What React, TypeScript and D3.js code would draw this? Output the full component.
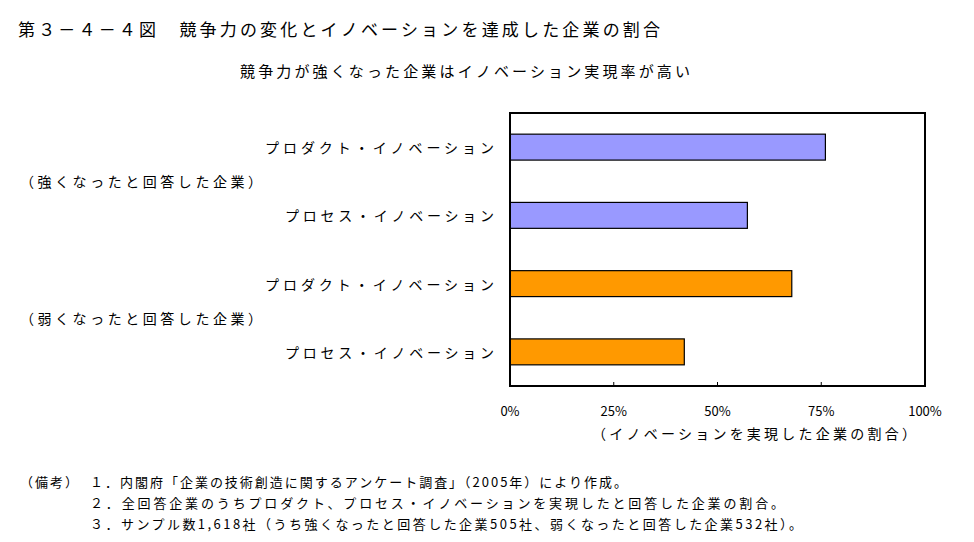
import React from "react";
import * as d3 from "d3";

const title = "第３－４－４図　競争力の変化とイノベーションを達成した企業の割合";
const subtitle = "競争力が強くなった企業はイノベーション実現率が高い";
const categories = ["強・プロダクト", "強・プロセス", "弱・プロダクト", "弱・プロセス"];
const categoryLabels = [
  "プロダクト・イノベーション",
  "プロセス・イノベーション",
  "プロダクト・イノベーション",
  "プロセス・イノベーション",
];
const values = [0.76, 0.572, 0.679, 0.42];
const groups = ["strong", "strong", "weak", "weak"];
const groupLabels = ["（強くなったと回答した企業）", "（弱くなったと回答した企業）"];
const ticks = [0, 0.25, 0.5, 0.75, 1];
const tickLabels = ["0%", "25%", "50%", "75%", "100%"];
const axisTitle = "（イノベーションを実現した企業の割合）";
const notes = [
  "（備考）",
  "１．内閣府「企業の技術創造に関するアンケート調査」（2005年）により作成。",
  "２．全回答企業のうちプロダクト、プロセス・イノベーションを実現したと回答した企業の割合。",
  "３．サンプル数1,618社（うち強くなったと回答した企業505社、弱くなったと回答した企業532社）。",
];

const FONT = "'Noto Sans CJK JP', sans-serif";

export default function App() {
  const W = 974;
  const H = 542;
  const left = 510, right = 925, top = 113, bottom = 386;
  const x = d3.scaleLinear().domain([0, 1]).range([left, right]);
  const y = d3.scaleBand<string>().domain(categories).range([top, bottom]).padding(0);
  const barH = y.bandwidth() * 0.38;
  const color = d3.scaleOrdinal<string, string>().domain(["strong", "weak"]).range(["#9999FF", "#FF9900"]);

  const catLens = [229, 209, 229, 209];
  const groupY = [
    ((y(categories[0]) as number) + (y(categories[1]) as number) + y.bandwidth()) / 2,
    ((y(categories[2]) as number) + (y(categories[3]) as number) + y.bandwidth()) / 2,
  ];
  const noteLens = [537, 694, 712];

  return (
    <svg width={W} height={H} style={{ position: "absolute", left: 0, top: 0, background: "#fff" }} fontFamily={FONT}>
      <rect x={0} y={0} width={W} height={H} fill="#fff" />
      <text x={18} y={28} fontSize={17} dominantBaseline="central" textLength={642} lengthAdjust="spacing">{title}</text>
      <text x={240} y={70} fontSize={15} dominantBaseline="central" textLength={450} lengthAdjust="spacing">{subtitle}</text>

      {categories.map((c, i) => (
        <rect key={c} x={x(0)} y={(y(c) as number) + (y.bandwidth() - barH) / 2} width={x(values[i]) - x(0)} height={barH}
          fill={color(groups[i])} stroke="#000" strokeWidth={1.2} />
      ))}

      <rect x={left} y={top} width={right - left} height={bottom - top} fill="none" stroke="#000" strokeWidth={2} />
      {ticks.slice(1, -1).map((t) => (
        <line key={t} x1={x(t)} x2={x(t)} y1={bottom} y2={bottom - 4} stroke="#000" strokeWidth={1} />
      ))}
      {ticks.map((t, i) => (
        <text key={t} x={x(t)} y={410} fontSize={13} textAnchor="middle" dominantBaseline="central">{tickLabels[i]}</text>
      ))}
      <text x={592} y={433} fontSize={14} dominantBaseline="central" textLength={324} lengthAdjust="spacing">{axisTitle}</text>

      {categories.map((c, i) => (
        <text key={c} x={494} y={(y(c) as number) + y.bandwidth() / 2} fontSize={14} textAnchor="end" dominantBaseline="central"
          textLength={catLens[i]} lengthAdjust="spacing">{categoryLabels[i]}</text>
      ))}
      {groupLabels.map((g, i) => (
        <text key={g} x={20} y={groupY[i]} fontSize={14} dominantBaseline="central" textLength={242} lengthAdjust="spacing">{g}</text>
      ))}

      <text x={20} y={481} fontSize={13} dominantBaseline="central" textLength={58} lengthAdjust="spacing">{notes[0]}</text>
      {notes.slice(1).map((n, i) => (
        <text key={i} x={90} y={481 + i * 21} fontSize={13} dominantBaseline="central" textLength={noteLens[i]} lengthAdjust="spacing">{n}</text>
      ))}
    </svg>
  );
}
